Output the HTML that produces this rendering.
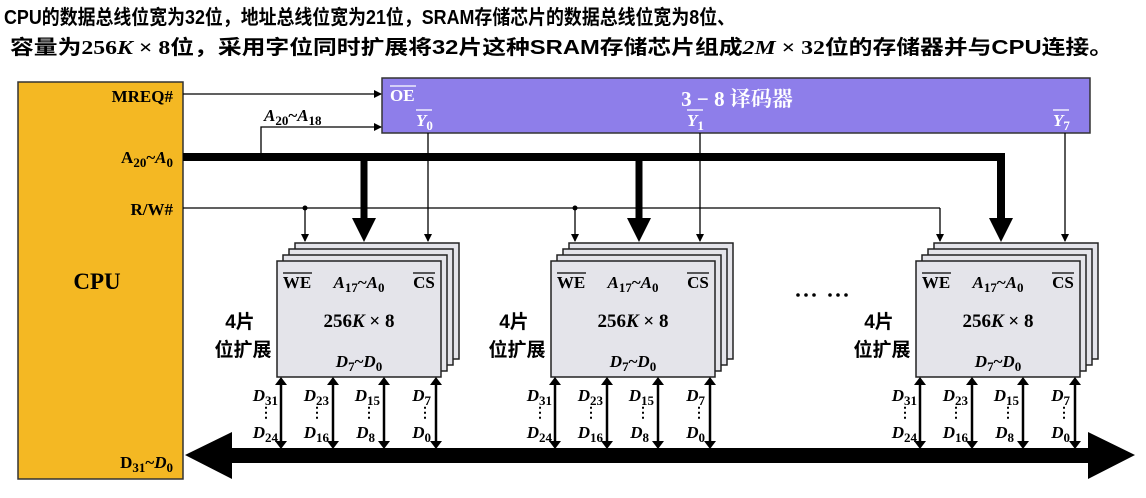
<!DOCTYPE html>
<html><head><meta charset="utf-8"><style>
body{margin:0;background:#fff;width:1146px;height:498px;overflow:hidden}
svg{display:block}
.t{font-family:"Liberation Sans","Noto Sans CJK SC",sans-serif;font-weight:bold}
.s{font-family:"Liberation Serif","Noto Serif CJK SC",serif;font-weight:bold}
.i{font-style:italic}
</style></head><body>
<svg width="1146" height="498" viewBox="0 0 1146 498" xmlns="http://www.w3.org/2000/svg">
<defs>
<marker id="a" markerWidth="8" markerHeight="8" refX="7" refY="4" orient="auto" markerUnits="userSpaceOnUse"><path d="M0,0 L8,4 L0,8z" fill="#000"/></marker>
<g id="chip">
<rect x="18" y="-18" width="164" height="116" fill="#E4E4EA" stroke="#222" stroke-width="1.5"/>
<rect x="12" y="-12" width="164" height="116" fill="#E4E4EA" stroke="#222" stroke-width="1.5"/>
<rect x="6" y="-6" width="164" height="116" fill="#E4E4EA" stroke="#222" stroke-width="1.5"/>
<rect x="0" y="0" width="164" height="116" fill="#E4E4EA" stroke="#222" stroke-width="1.5"/>
<text class="s" x="20" y="27" font-size="17" text-anchor="middle">WE</text>
<line x1="6" y1="12" x2="35" y2="12" stroke="#000" stroke-width="1.3"/>
<text class="s" x="82" y="27" font-size="17" text-anchor="middle"><tspan class="i">A</tspan><tspan font-size="13" dy="4">17</tspan><tspan dy="-4">~</tspan><tspan class="i">A</tspan><tspan font-size="13" dy="4">0</tspan></text>
<text class="s" x="147" y="27" font-size="17" text-anchor="middle">CS</text>
<line x1="136" y1="12" x2="158" y2="12" stroke="#000" stroke-width="1.3"/>
<text class="s" x="82" y="66" font-size="19" text-anchor="middle">256<tspan class="i">K</tspan> × 8</text>
<text class="s" x="82" y="106" font-size="17" text-anchor="middle"><tspan class="i">D</tspan><tspan font-size="13" dy="4">7</tspan><tspan dy="-4">~</tspan><tspan class="i">D</tspan><tspan font-size="13" dy="4">0</tspan></text>
<text class="t" x="-37" y="67" font-size="19" text-anchor="middle">4片</text>
<text class="t" x="-34" y="95" font-size="19" text-anchor="middle">位扩展</text>
<g stroke="#000" stroke-width="2.5">
<line x1="4" y1="122" x2="4" y2="182"/><line x1="56" y1="122" x2="56" y2="182"/><line x1="107" y1="122" x2="107" y2="182"/><line x1="159" y1="122" x2="159" y2="182"/>
</g>
<g fill="#000">
<path d="M-2,124 L4,116 L10,124z M-2,180 L4,188 L10,180z"/>
<path d="M50,124 L56,116 L62,124z M50,180 L56,188 L62,180z"/>
<path d="M101,124 L107,116 L113,124z M101,180 L107,188 L113,180z"/>
<path d="M153,124 L159,116 L165,124z M153,180 L159,188 L165,180z"/>
</g>
<g class="s" font-size="17" text-anchor="end">
<text x="1" y="140"><tspan class="i">D</tspan><tspan font-size="13" dy="4">31</tspan></text>
<text x="1" y="177"><tspan class="i">D</tspan><tspan font-size="13" dy="4">24</tspan></text>
<text x="52" y="140"><tspan class="i">D</tspan><tspan font-size="13" dy="4">23</tspan></text>
<text x="52" y="177"><tspan class="i">D</tspan><tspan font-size="13" dy="4">16</tspan></text>
<text x="103" y="140"><tspan class="i">D</tspan><tspan font-size="13" dy="4">15</tspan></text>
<text x="98" y="177"><tspan class="i">D</tspan><tspan font-size="13" dy="4">8</tspan></text>
<text x="154" y="140"><tspan class="i">D</tspan><tspan font-size="13" dy="4">7</tspan></text>
<text x="154" y="177"><tspan class="i">D</tspan><tspan font-size="13" dy="4">0</tspan></text>
</g>
<g font-size="14" class="s" text-anchor="middle">
<text x="-11" y="156">⋮</text><text x="40" y="156">⋮</text><text x="92" y="156">⋮</text><text x="148" y="156">⋮</text>
</g>
</g>
</defs>
<text class="t" x="4" y="24" font-size="20" textLength="731" lengthAdjust="spacingAndGlyphs">CPU的数据总线位宽为32位，地址总线位宽为21位，SRAM存储芯片的数据总线位宽为8位、</text>
<text class="t" x="10" y="54" font-size="20" textLength="1103" lengthAdjust="spacingAndGlyphs">容量为<tspan class="s" font-weight="normal">256<tspan class="i">K</tspan> × 8</tspan>位，采用字位同时扩展将32片这种SRAM存储芯片组成<tspan class="s" font-weight="normal"><tspan class="i">2M</tspan> × 32</tspan>位的存储器并与CPU连接。</text>

<rect x="18" y="82" width="165" height="397" fill="#F4B823" stroke="#333" stroke-width="1.5"/>
<text class="s" x="97" y="289" font-size="23" text-anchor="middle">CPU</text>
<text class="s" x="173" y="102" font-size="17" text-anchor="end">MREQ#</text>
<text class="s" x="173" y="163" font-size="17" text-anchor="end">A<tspan font-size="13" dy="4">20</tspan><tspan dy="-4">~</tspan><tspan class="i">A</tspan><tspan font-size="13" dy="4">0</tspan></text>
<text class="s" x="173" y="215" font-size="17" text-anchor="end">R/W#</text>
<text class="s" x="173" y="468" font-size="17" text-anchor="end">D<tspan font-size="13" dy="4">31</tspan><tspan dy="-4">~</tspan><tspan class="i">D</tspan><tspan font-size="13" dy="4">0</tspan></text>

<rect x="382" y="78" width="708" height="55" fill="#8E7EEA" stroke="#333" stroke-width="1.5"/>
<text class="s" x="737" y="106" font-size="21" fill="#fff" text-anchor="middle">3 − 8 译码器</text>
<text class="s" x="390" y="101" font-size="17" fill="#fff">OE</text>
<line x1="390" y1="86" x2="416" y2="86" stroke="#fff" stroke-width="1.3"/>
<text class="s i" x="416" y="126" font-size="17" fill="#fff">Y<tspan font-size="13" dy="4" font-style="normal">0</tspan></text>
<line x1="416" y1="110" x2="432" y2="110" stroke="#fff" stroke-width="1.3"/>
<text class="s i" x="687" y="126" font-size="17" fill="#fff">Y<tspan font-size="13" dy="4" font-style="normal">1</tspan></text>
<line x1="687" y1="110" x2="703" y2="110" stroke="#fff" stroke-width="1.3"/>
<text class="s i" x="1053" y="126" font-size="17" fill="#fff">Y<tspan font-size="13" dy="4" font-style="normal">7</tspan></text>
<line x1="1053" y1="110" x2="1069" y2="110" stroke="#fff" stroke-width="1.3"/>

<g stroke="#000" stroke-width="1.3" fill="none">
<line x1="183" y1="94" x2="381" y2="94" marker-end="url(#a)"/>
<polyline points="261,157 261,127 381,127" marker-end="url(#a)"/>
<line x1="183" y1="208" x2="940" y2="208"/>
<line x1="305" y1="208" x2="305" y2="241" marker-end="url(#a)"/>
<line x1="575" y1="208" x2="575" y2="241" marker-end="url(#a)"/>
<line x1="940" y1="208" x2="940" y2="241" marker-end="url(#a)"/>
<line x1="428" y1="133" x2="428" y2="241" marker-end="url(#a)"/>
<line x1="700" y1="133" x2="700" y2="241" marker-end="url(#a)"/>
<line x1="1065" y1="133" x2="1065" y2="241" marker-end="url(#a)"/>
</g>
<text class="s" x="264" y="121" font-size="17"><tspan class="i">A</tspan><tspan font-size="13" dy="4">20</tspan><tspan dy="-4">~</tspan><tspan class="i">A</tspan><tspan font-size="13" dy="4">18</tspan></text>
<circle cx="305" cy="208" r="2.5"/><circle cx="575" cy="208" r="2.5"/>

<polyline points="183,157 1001,157 1001,220" stroke="#000" stroke-width="8" fill="none"/>
<line x1="364" y1="157" x2="364" y2="220" stroke="#000" stroke-width="7"/>
<line x1="639" y1="157" x2="639" y2="220" stroke="#000" stroke-width="7"/>
<path d="M352,218 L376,218 L364,242z M627,218 L651,218 L639,242z M989,218 L1013,218 L1001,242z" fill="#000"/>

<use href="#chip" x="277" y="261"/>
<use href="#chip" x="551" y="261"/>
<use href="#chip" x="916" y="261"/>
<g fill="#000"><circle cx="798" cy="295" r="1.8"/><circle cx="806" cy="295" r="1.8"/><circle cx="814" cy="295" r="1.8"/><circle cx="830" cy="295" r="1.8"/><circle cx="838" cy="295" r="1.8"/><circle cx="846" cy="295" r="1.8"/></g>

<rect x="230" y="448" width="860" height="15" fill="#000"/>
<path d="M185,455 L232,432 L232,479z M1135,455 L1088,432 L1088,479z" fill="#000"/>
</svg>
</body></html>
